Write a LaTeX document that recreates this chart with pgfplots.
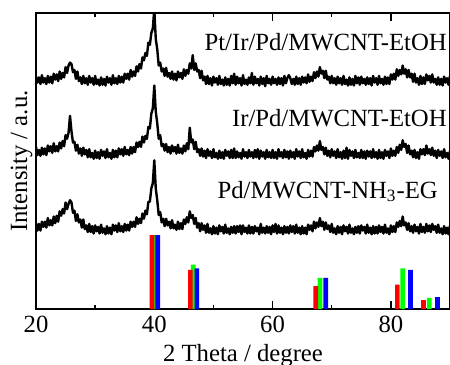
\documentclass[border=0pt]{standalone}
\usepackage{fontspec}
\setmainfont{Liberation Serif}
\usepackage{pgfplots}
\pgfplotsset{compat=1.18}
\usepackage{pgfplotstable}
\pgfplotstableread{
x b m t
20.00 1.16 2.19 3.14
20.25 1.06 2.08 3.06
20.50 1.15 2.15 3.13
20.75 1.06 2.07 3.04
21.00 1.18 2.18 3.16
21.25 1.11 2.09 3.06
21.50 1.18 2.17 3.12
21.75 1.10 2.08 3.04
22.00 1.23 2.21 3.15
22.25 1.13 2.13 3.06
22.50 1.20 2.20 3.14
22.75 1.13 2.11 3.05
23.00 1.25 2.24 3.18
23.25 1.16 2.13 3.10
23.50 1.26 2.20 3.17
23.75 1.18 2.13 3.08
24.00 1.32 2.25 3.21
24.25 1.26 2.17 3.11
24.50 1.35 2.27 3.19
24.75 1.29 2.20 3.13
25.00 1.44 2.35 3.27
25.25 1.35 2.30 3.19
25.50 1.42 2.38 3.29
25.75 1.47 2.61 3.33
26.00 1.44 2.40 3.31
26.25 1.30 2.25 3.20
26.50 1.33 2.26 3.23
26.75 1.19 2.14 3.11
27.00 1.28 2.22 3.21
27.25 1.17 2.10 3.08
27.50 1.21 2.17 3.13
27.75 1.10 2.07 3.04
28.00 1.21 2.18 3.15
28.25 1.08 2.09 3.05
28.50 1.13 2.15 3.12
28.75 1.04 2.05 3.03
29.00 1.15 2.16 3.15
29.25 1.04 2.05 3.06
29.50 1.12 2.11 3.12
29.75 1.02 2.03 3.03
30.00 1.13 2.14 3.15
30.25 1.05 2.04 3.04
30.50 1.11 2.12 3.10
30.75 1.02 2.03 3.02
31.00 1.14 2.15 3.13
31.25 1.03 2.07 3.03
31.50 1.09 2.13 3.11
31.75 1.01 2.04 3.02
32.00 1.12 2.16 3.14
32.25 1.02 2.05 3.06
32.50 1.10 2.11 3.12
32.75 1.01 2.03 3.03
33.00 1.14 2.15 3.16
33.25 1.06 2.05 3.05
33.50 1.13 2.14 3.12
33.75 1.04 2.05 3.04
34.00 1.16 2.17 3.15
34.25 1.05 2.09 3.06
34.50 1.12 2.16 3.14
34.75 1.04 2.07 3.06
35.00 1.15 2.19 3.18
35.25 1.06 2.09 3.11
35.50 1.14 2.15 3.18
35.75 1.06 2.08 3.10
36.00 1.18 2.19 3.23
36.25 1.11 2.10 3.14
36.50 1.18 2.19 3.21
36.75 1.11 2.12 3.15
37.00 1.24 2.25 3.28
37.25 1.15 2.19 3.21
37.50 1.22 2.26 3.31
37.75 1.16 2.19 3.25
38.00 1.29 2.33 3.40
38.25 1.22 2.25 3.36
38.50 1.33 2.34 3.46
38.75 1.28 2.30 3.42
39.00 1.45 2.46 3.60
39.25 1.45 2.44 3.57
39.50 1.63 2.64 3.73
39.75 1.70 2.71 3.79
40.00 2.01 3.02 4.05
40.25 1.63 2.67 3.65
40.50 1.47 2.51 3.51
40.75 1.27 2.30 3.29
41.00 1.31 2.35 3.33
41.25 1.17 2.20 3.21
41.50 1.22 2.23 3.25
41.75 1.12 2.14 3.15
42.00 1.22 2.23 3.26
42.25 1.13 2.12 3.14
42.50 1.18 2.19 3.19
42.75 1.09 2.10 3.11
43.00 1.20 2.21 3.21
43.25 1.09 2.13 3.10
43.50 1.14 2.19 3.18
43.75 1.07 2.10 3.09
44.00 1.18 2.22 3.21
44.25 1.08 2.11 3.13
44.50 1.16 2.17 3.19
44.75 1.08 2.10 3.11
45.00 1.21 2.21 3.24
45.25 1.15 2.13 3.15
45.50 1.24 2.24 3.23
45.75 1.17 2.16 3.18
46.00 1.32 2.45 3.32
46.25 1.23 2.25 3.25
46.50 1.27 2.29 3.43
46.75 1.15 2.16 3.23
47.00 1.23 2.26 3.32
47.25 1.10 2.12 3.21
47.50 1.16 2.16 3.23
47.75 1.05 2.07 3.12
48.00 1.16 2.17 3.22
48.25 1.07 2.06 3.09
48.50 1.13 2.14 3.14
48.75 1.03 2.04 3.04
49.00 1.15 2.16 3.15
49.25 1.03 2.07 3.04
49.50 1.09 2.13 3.12
49.75 1.01 2.04 3.02
50.00 1.12 2.16 3.14
50.25 1.02 2.05 3.06
50.50 1.10 2.11 3.12
50.75 1.01 2.03 3.03
51.00 1.13 2.14 3.15
51.25 1.05 2.04 3.04
51.50 1.11 2.12 3.10
51.75 1.02 2.03 3.02
52.00 1.14 2.15 3.13
52.25 1.03 2.07 3.03
52.50 1.09 2.13 3.11
52.75 1.01 2.04 3.02
53.00 1.11 2.15 3.15
53.25 1.03 2.04 3.05
53.50 1.12 2.17 3.18
53.75 1.02 2.04 3.03
54.00 1.12 2.13 3.14
54.25 1.04 2.05 3.05
54.50 1.13 2.11 3.12
54.75 1.01 2.03 3.02
55.00 1.13 2.16 3.16
55.25 1.04 2.06 3.04
55.50 1.10 2.12 3.10
55.75 1.02 2.04 3.03
56.00 1.13 2.15 3.13
56.25 1.02 2.06 3.05
56.50 1.11 2.12 3.19
56.75 1.02 2.04 3.03
57.00 1.12 2.15 3.14
57.25 1.05 2.05 3.05
57.50 1.10 2.16 3.11
57.75 1.01 2.03 3.02
58.00 1.15 2.14 3.14
58.25 1.03 2.06 3.04
58.50 1.10 2.12 3.12
58.75 1.02 2.03 3.01
59.00 1.12 2.15 3.15
59.25 1.03 2.05 3.05
59.50 1.11 2.12 3.11
59.75 1.01 2.04 3.03
60.00 1.13 2.15 3.14
60.25 1.04 2.04 3.05
60.50 1.15 2.12 3.11
60.75 1.02 2.03 3.03
61.00 1.13 2.16 3.13
61.25 1.03 2.06 3.04
61.50 1.10 2.12 3.12
61.75 1.01 2.04 3.02
62.00 1.12 2.15 3.15
62.25 1.03 2.05 3.05
62.50 1.11 2.13 3.12
62.75 1.02 2.03 3.16
63.00 1.13 2.14 3.12
63.25 1.04 2.05 3.04
63.50 1.12 2.12 3.11
63.75 1.02 2.03 3.03
64.00 1.14 2.16 3.14
64.25 1.03 2.06 3.04
64.50 1.10 2.13 3.12
64.75 1.01 2.04 3.03
65.00 1.12 2.16 3.14
65.25 1.02 2.05 3.06
65.50 1.10 2.11 3.13
65.75 1.01 2.03 3.05
66.00 1.14 2.15 3.17
66.25 1.07 2.06 3.07
66.50 1.13 2.14 3.14
66.75 1.05 2.06 3.08
67.00 1.18 2.19 3.20
67.25 1.09 2.13 3.12
67.50 1.17 2.21 3.21
67.75 1.11 2.14 3.14
68.00 1.23 2.27 3.27
68.25 1.12 2.15 3.18
68.50 1.18 2.19 3.22
68.75 1.07 2.09 3.12
69.00 1.17 2.18 3.22
69.25 1.08 2.07 3.10
69.50 1.13 2.14 3.14
69.75 1.04 2.05 3.05
70.00 1.15 2.16 3.15
70.25 1.03 2.07 3.05
70.50 1.09 2.13 3.12
70.75 1.01 2.04 3.03
71.00 1.12 2.16 3.14
71.25 1.03 2.05 3.05
71.50 1.11 2.12 3.12
71.75 1.01 2.03 3.03
72.00 1.13 2.14 3.15
72.25 1.05 2.04 3.04
72.50 1.11 2.18 3.10
72.75 1.02 2.03 3.02
73.00 1.14 2.15 3.13
73.25 1.03 2.07 3.03
73.50 1.09 2.13 3.11
73.75 1.01 2.04 3.02
74.00 1.11 2.15 3.15
74.25 1.03 2.05 3.05
74.50 1.12 2.11 3.13
74.75 1.02 2.04 3.03
75.00 1.13 2.15 3.14
75.25 1.06 2.04 3.05
75.50 1.11 2.13 3.11
75.75 1.02 2.03 3.03
76.00 1.14 2.14 3.13
76.25 1.03 2.06 3.04
76.50 1.10 2.13 3.12
76.75 1.01 2.04 3.02
77.00 1.12 2.16 3.15
77.25 1.02 2.05 3.06
77.50 1.11 2.12 3.12
77.75 1.02 2.03 3.03
78.00 1.13 2.15 3.15
78.25 1.04 2.04 3.05
78.50 1.11 2.12 3.11
78.75 1.02 2.03 3.03
79.00 1.14 2.15 3.14
79.25 1.03 2.07 3.04
79.50 1.09 2.13 3.13
79.75 1.01 2.04 3.04
80.00 1.13 2.17 3.17
80.25 1.04 2.07 3.10
80.50 1.12 2.14 3.18
80.75 1.04 2.07 3.10
81.00 1.17 2.19 3.24
81.25 1.11 2.11 3.15
81.50 1.19 2.22 3.23
81.75 1.12 2.15 3.17
82.00 1.25 2.28 3.29
82.25 1.13 2.19 3.18
82.50 1.17 2.23 3.24
82.75 1.07 2.11 3.13
83.00 1.16 2.21 3.23
83.25 1.05 2.09 3.13
83.50 1.12 2.14 3.18
83.75 1.03 2.05 3.07
84.00 1.14 2.15 3.18
84.25 1.05 2.04 3.06
84.50 1.11 2.12 3.12
84.75 1.02 2.03 3.03
85.00 1.15 2.16 3.15
85.25 1.04 2.09 3.04
85.50 1.11 2.16 3.13
85.75 1.03 2.08 3.04
86.00 1.15 2.21 3.17
86.25 1.05 2.10 3.09
86.50 1.13 2.16 3.15
86.75 1.04 2.08 3.06
87.00 1.15 2.18 3.17
87.25 1.07 2.07 3.06
87.50 1.12 2.14 3.11
87.75 1.03 2.04 3.03
88.00 1.14 2.15 3.13
88.25 1.03 2.07 3.03
88.50 1.09 2.13 3.11
88.75 1.01 2.04 3.02
89.00 1.12 2.16 3.14
89.25 1.02 2.05 3.06
89.50 1.10 2.11 3.12
89.75 1.01 2.03 3.03
90.00 1.13 2.14 3.15
}\xrd
\pgfplotstableread{
x y
39.6 1.00
46.1 0.53
67.3 0.31
81.1 0.33
85.5 0.12
}\redbars
\pgfplotstableread{
x y
40.1 1.00
46.6 0.60
68.0 0.42
82.0 0.55
86.5 0.15
}\greenbars
\pgfplotstableread{
x y
40.6 1.00
47.2 0.55
69.0 0.42
83.3 0.53
87.9 0.16
}\bluebars
\definecolor{pgreen}{rgb}{0,1,0}
\definecolor{pred}{rgb}{1,0,0}
\definecolor{pblue}{rgb}{0,0,1}
\begin{document}
\begin{tikzpicture}[font=\fontsize{12.4}{14}\selectfont]
\begin{axis}[
  scale only axis, width=207bp, height=148bp,
  xmin=20, xmax=90, ymin=0, ymax=4,
  xtick={20,40,60,80}, minor xtick={30,50,70},
  ytick=\empty, minor ytick={0.5,1.5,2.5,3.5},
  major tick length=3.8bp, minor tick length=2.2bp,
  tick align=inside,
  axis line style={line width=0.7pt},
  every tick/.style={black, line width=0.7pt},
  every minor tick/.style={black, line width=0.7pt},
  /pgf/number format/assume math mode=true,
  tick label style={font=\fontsize{12.4}{14}\selectfont},
  label style={font=\fontsize{12.4}{14}\selectfont},
  xticklabel style={anchor=base, yshift=-11.5bp, inner sep=0pt},
  xlabel={2 Theta / degree},
  ylabel={Intensity / a.u.},
  xlabel style={at={(axis description cs:0.5,0)}, anchor=base, yshift=-26bp, inner sep=0pt},
  ylabel style={at={(axis description cs:-0.0217,0.5)}, anchor=base, inner sep=0pt},
]
\coordinate (ll) at (rel axis cs:0,0);
\coordinate (ur) at (rel axis cs:1,1);
\addplot[ybar, bar width=0.8, bar shift=0pt, fill=pgreen, draw=none] table[x=x,y=y]{\greenbars};
\addplot[ybar, bar width=0.8, bar shift=0pt, fill=pred, draw=none] table[x=x,y=y]{\redbars};
\addplot[ybar, bar width=0.8, bar shift=0pt, fill=pblue, draw=none] table[x=x,y=y]{\bluebars};
\addplot[black, line width=1.2pt, line join=round, mark=none] table[x=x,y=b]{\xrd};
\addplot[black, line width=1.2pt, line join=round, mark=none] table[x=x,y=m]{\xrd};
\addplot[black, line width=1.2pt, line join=round, mark=none] table[x=x,y=t]{\xrd};
\node[anchor=base east, inner sep=0pt] at (axis cs:89.5,3.5) {Pt/Ir/Pd/MWCNT-EtOH};
\node[anchor=base east, inner sep=0pt] at (axis cs:89.5,2.46) {Ir/Pd/MWCNT-EtOH};
\node[anchor=base east, inner sep=0pt] at (axis cs:88.0,1.5) {Pd/MWCNT-NH\textsubscript{3}-EG};
\end{axis}
\pgfresetboundingbox
\path[use as bounding box] ([xshift=-18bp,yshift=-27.5bp]ll) rectangle ([yshift=6.5bp]ur);
\end{tikzpicture}
\end{document}
